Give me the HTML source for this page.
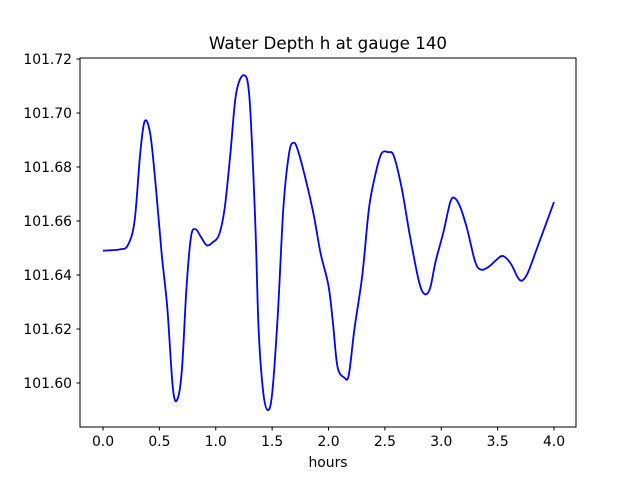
<!DOCTYPE html>
<html><head><meta charset="utf-8"><style>
body{margin:0;background:#fff;font-family:"DejaVu Sans","Liberation Sans",sans-serif;}
</style></head><body>
<svg id="chart" width="640" height="480" xmlns="http://www.w3.org/2000/svg">
<rect width="640" height="480" fill="#fff"/>
<text x="328" y="49" font-size="16.7" text-anchor="middle" font-family="DejaVu Sans, sans-serif">Water Depth h at gauge 140</text>
<g id="axes" font-family="DejaVu Sans, sans-serif"></g>
<rect x="80" y="58" width="496" height="369" fill="none" stroke="#000" stroke-width="1"/>
<text x="328" y="467" font-size="13.9" text-anchor="middle" font-family="DejaVu Sans, sans-serif">hours</text>
</svg>
<script>
const hours=[0,0.15,0.22,0.28,0.33,0.37,0.42,0.47,0.52,0.57,0.62,0.66,0.7,0.74,0.78,0.82,0.87,0.92,0.97,1.03,1.08,1.13,1.18,1.25,1.3,1.35,1.38,1.42,1.46,1.5,1.55,1.6,1.65,1.69,1.73,1.8,1.87,1.93,2.0,2.04,2.08,2.14,2.18,2.23,2.3,2.36,2.42,2.47,2.53,2.58,2.65,2.72,2.8,2.85,2.9,2.95,3.02,3.08,3.12,3.17,3.23,3.3,3.35,3.42,3.5,3.55,3.62,3.68,3.72,3.77,3.85,4.0];
const depth=[101.649,101.6495,101.651,101.66,101.685,101.697,101.692,101.672,101.648,101.628,101.598,101.594,101.605,101.635,101.654,101.657,101.654,101.651,101.652,101.655,101.665,101.685,101.707,101.714,101.705,101.66,101.62,101.597,101.59,101.596,101.625,101.665,101.685,101.689,101.686,101.675,101.662,101.648,101.636,101.622,101.606,101.602,101.603,101.62,101.64,101.665,101.678,101.685,101.6855,101.684,101.672,101.655,101.638,101.633,101.635,101.645,101.656,101.667,101.6685,101.665,101.657,101.645,101.642,101.643,101.646,101.647,101.644,101.639,101.638,101.641,101.65,101.667];
const xTicks=[0,0.5,1,1.5,2,2.5,3,3.5,4];
const xTickLabels=["0.0","0.5","1.0","1.5","2.0","2.5","3.0","3.5","4.0"];
const yTicks=[101.60,101.62,101.64,101.66,101.68,101.70,101.72];
const yTickLabels=["101.60","101.62","101.64","101.66","101.68","101.70","101.72"];
const X=v=>103+v*112.75;
const Y=v=>383-(v-101.60)*2700;
const NS="http://www.w3.org/2000/svg";
const g=document.getElementById('axes');
function mk(t,a){const e=document.createElementNS(NS,t);for(const k in a)e.setAttribute(k,a[k]);g.appendChild(e);return e;}
xTicks.forEach((t,i)=>{
 const l=mk('line',{x1:X(t),x2:X(t),y1:427,y2:430.5,stroke:'#000'});
 
 
 const tx=mk('text',{x:X(t),y:446,'font-size':13.9,'text-anchor':'middle'});
 tx.textContent=xTickLabels[i];
 
 
});
yTicks.forEach((t,i)=>{
 const l=mk('line',{x1:76.5,x2:80,y1:Y(t),y2:Y(t),stroke:'#000'});
 
 
 const tx=mk('text',{x:72,y:Y(t)+5,'font-size':13.9,'text-anchor':'end'});
 tx.textContent=yTickLabels[i];
 
 
});
const pts=hours.map((h,i)=>[X(h),Y(depth[i])]);
let d=`M${pts[0][0]},${pts[0][1]}`;
for(let i=0;i<pts.length-1;i++){
 const p0=pts[Math.max(0,i-1)],p1=pts[i],p2=pts[i+1],p3=pts[Math.min(pts.length-1,i+2)];
 const c1=[p1[0]+(p2[0]-p0[0])/6,p1[1]+(p2[1]-p0[1])/6];
 const c2=[p2[0]-(p3[0]-p1[0])/6,p2[1]-(p3[1]-p1[1])/6];
 d+=` C${c1[0]},${c1[1]} ${c2[0]},${c2[1]} ${p2[0]},${p2[1]}`;
}
const line=mk('path',{d:d,fill:'none',stroke:'#0000ff','stroke-width':1.8});


</script>
</body></html>
